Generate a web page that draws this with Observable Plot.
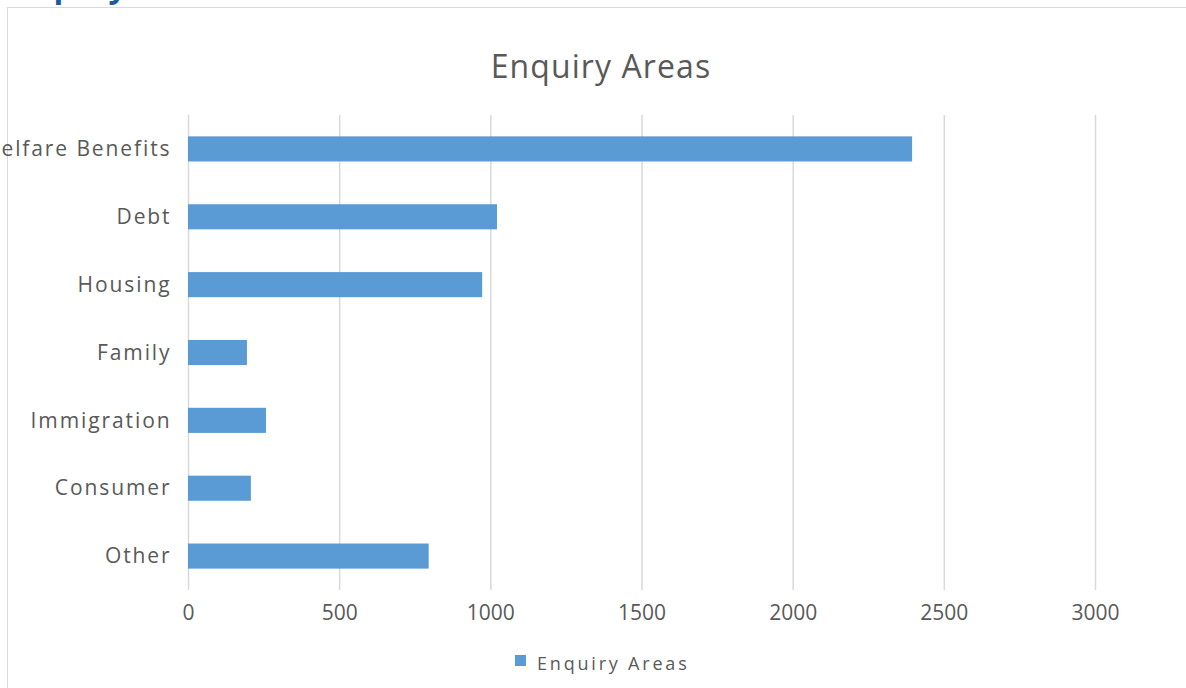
<!DOCTYPE html>
<html>
<head>
<meta charset="utf-8">
<script src="https://cdn.jsdelivr.net/npm/d3@7"></script>
<script src="https://cdn.jsdelivr.net/npm/@observablehq/plot@0.6"></script>
<style>
  html, body { margin: 0; padding: 0; background: #fff; }
  body { width: 1186px; height: 688px; position: relative; overflow: hidden; font-family: "Open Sans", sans-serif; }
  #frame { position: absolute; left: 7px; top: 7px; width: 1300px; height: 800px; border-left: 1.5px solid #d9d9d9; border-top: 1.5px solid #d9d9d9; }
  #heading { position: absolute; left: 0; top: 0; }
  #title { position: absolute; left: 0; width: 1202px; top: 50px; line-height: 1; text-align: center; font-size: 32px; color: #595959; letter-spacing: 1.1px; }
  #chart { position: absolute; left: 0; top: 0; }
  #chart g[aria-label="y-axis tick label"] text { letter-spacing: 1.9px; }
  #legend-sw { position: absolute; left: 515px; top: 655px; width: 11px; height: 11px; background: #5b9bd5; }
  #legend-tx { position: absolute; left: 537px; top: 654px; line-height: 1; font-size: 18px; color: #595959; letter-spacing: 2.8px; white-space: nowrap; }
</style>
</head>
<body>
<svg id="heading" width="300" height="10"><text x="4" y="-3" font-family="Open Sans" font-weight="bold" font-size="32" fill="#1b5a9b">Enquiry Areas</text></svg>
<div id="frame"></div>
<div id="chart"></div>
<div id="title">Enquiry Areas</div>
<div id="legend-sw"></div>
<div id="legend-tx">Enquiry Areas</div>
<script>
const categories = ["Welfare Benefits", "Debt", "Housing", "Family", "Immigration", "Consumer", "Other"];
const values = [2395, 1022, 973, 195, 258, 208, 796];
const xTicks = [0, 500, 1000, 1500, 2000, 2500, 3000];

const data = categories.map((c, i) => ({category: c, value: values[i]}));

const plot = Plot.plot({
  width: 1186,
  height: 640,
  marginLeft: 188,
  marginRight: 91,
  marginTop: 115,
  marginBottom: 50,
  style: {background: "transparent", color: "#595959", fontFamily: "'Open Sans', sans-serif", overflow: "visible"},
  x: {domain: [0, 3000], ticks: xTicks, label: null},
  y: {domain: categories, label: null, paddingInner: 0.63, paddingOuter: 0.315, round: false},
  marks: [
    Plot.gridX(xTicks, {stroke: "#d9d9d9", strokeOpacity: 1, strokeWidth: 1.5}),
    Plot.barX(data, {x: "value", y: "category", fill: "#5b9bd5"}),
    Plot.axisX({ticks: xTicks, tickSize: 0, tickPadding: 15, fontSize: 21, label: null, fill: "#595959", tickFormat: d => String(d)}),
    Plot.axisY({tickSize: 0, tickPadding: 17, fontSize: 21, label: null, fill: "#595959"})
  ]
});
document.getElementById("chart").appendChild(plot);
</script>
</body>
</html>
